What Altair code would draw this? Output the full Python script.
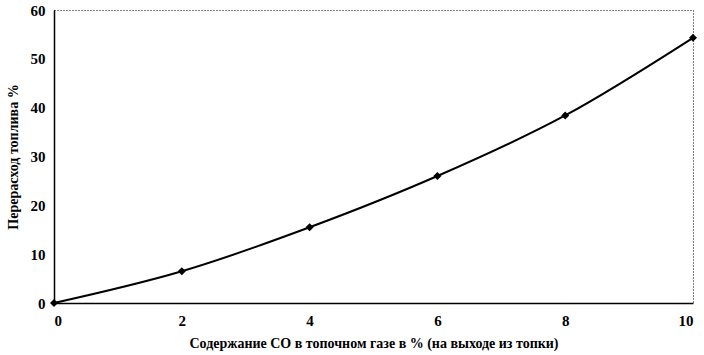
import altair as alt
import pandas as pd

co_content = [0, 2, 4, 6, 8, 10]
overuse = [0, 6.5, 15.5, 26.0, 38.4, 54.3]

df = pd.DataFrame({"co": co_content, "fuel": overuse})

FONT = "Liberation Serif"

x = alt.X("co:Q", scale=alt.Scale(domain=[0, 10], nice=False),
          axis=alt.Axis(values=[0, 2, 4, 6, 8, 10], title="Содержание СО в топочном газе в % (на выходе из топки)",
                        grid=False, ticks=False, domainColor="black", domainWidth=1.5,
                        labelPadding=10, titlePadding=8))
y = alt.Y("fuel:Q", scale=alt.Scale(domain=[0, 60], nice=False),
          axis=alt.Axis(values=[0, 10, 20, 30, 40, 50, 60], title="Перерасход топлива %",
                        grid=False, ticks=False, domainColor="black", domainWidth=1.5,
                        labelPadding=9, titlePadding=10))

line = alt.Chart(df).mark_line(color="black", strokeWidth=2, interpolate="monotone").encode(x=x, y=y)
pts = alt.Chart(df).mark_point(shape="diamond", filled=True, color="black", size=65, opacity=1).encode(x=x, y=y)

chart = (line + pts).properties(
    width=639, height=293,
    padding={"left": 54, "top": 10, "right": 11, "bottom": 52},
    autosize="none",
    background="white",
).configure_view(
    stroke="black", strokeDash=[1, 2], strokeWidth=1
).configure_axis(
    labelFont=FONT, titleFont=FONT, labelFontSize=15, titleFontSize=14,
    labelFontWeight="bold", titleFontWeight="bold", labelColor="black", titleColor="black"
)

chart.save("out.html", embed_options={"renderer": "svg", "actions": False})
